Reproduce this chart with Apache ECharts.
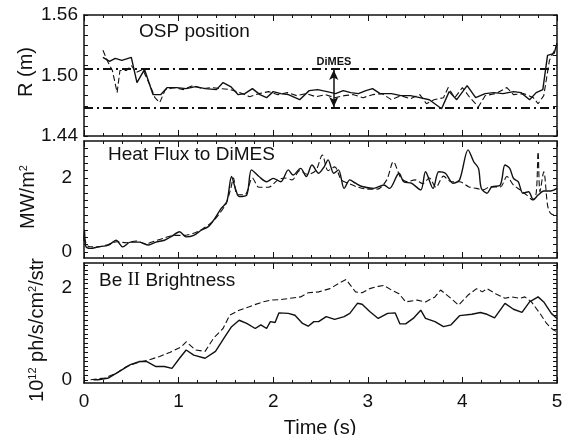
<!DOCTYPE html>
<html><head><meta charset="utf-8">
<script src="https://cdn.jsdelivr.net/npm/echarts@6/dist/echarts.min.js"></script>
<style>html,body{margin:0;padding:0;background:#fff}#c{width:567px;height:435px}</style>
</head><body><div id="c"></div><script>
// ---------- data ----------
const timeTicks = [0, 1, 2, 3, 4, 5];
const ospLabels = [1.44, 1.50, 1.56];
const ospTicks = [1.44,1.45,1.46,1.47,1.48,1.49,1.50,1.51,1.52,1.53,1.54,1.55,1.56];
const heatLabels = [0, 2];
const heatTicks = [0,0.2,0.4,0.6,0.8,1.0,1.2,1.4,1.6,1.8,2.0,2.2,2.4,2.6,2.8];
const beLabels = [0, 2];
const beTicks = [0,0.1,0.2,0.3,0.4,0.5,0.6,0.7,0.8,0.9,1.0,1.1,1.2,1.3,1.4,1.5,1.6,1.7,1.8,1.9,2.0,2.1,2.2,2.3,2.4,2.5];

const dimesHigh = 1.5064;
const dimesLow = 1.4678;
const dimesArrowT = 2.64;

const ospSolid = [[0.20,1.518],[0.27,1.514],[0.33,1.517],[0.40,1.515],[0.50,1.518],[0.56,1.493],[0.64,1.506],[0.73,1.481],[0.81,1.481],[0.88,1.488],[0.98,1.488],[1.08,1.487],[1.18,1.489],[1.28,1.487],[1.40,1.486],[1.47,1.493],[1.55,1.489],[1.63,1.481],[1.70,1.482],[1.78,1.487],[1.86,1.481],[1.93,1.478],[2.00,1.484],[2.08,1.482],[2.16,1.481],[2.28,1.476],[2.38,1.485],[2.47,1.486],[2.57,1.484],[2.66,1.482],[2.74,1.485],[2.82,1.483],[2.90,1.482],[2.98,1.485],[3.05,1.487],[3.13,1.482],[3.25,1.482],[3.35,1.480],[3.45,1.480],[3.55,1.478],[3.65,1.476],[3.78,1.467],[3.86,1.484],[3.94,1.476],[4.05,1.490],[4.14,1.478],[4.24,1.482],[4.33,1.483],[4.43,1.482],[4.54,1.484],[4.62,1.483],[4.71,1.476],[4.78,1.483],[4.85,1.486],[4.90,1.520],[4.97,1.522],[5.00,1.532]];
const ospDashed = [[0.20,1.525],[0.25,1.514],[0.30,1.505],[0.35,1.483],[0.38,1.505],[0.45,1.505],[0.50,1.510],[0.55,1.503],[0.62,1.506],[0.70,1.490],[0.75,1.478],[0.80,1.473],[0.86,1.486],[0.95,1.488],[1.05,1.486],[1.15,1.490],[1.25,1.487],[1.35,1.488],[1.45,1.487],[1.55,1.486],[1.65,1.483],[1.75,1.479],[1.85,1.482],[1.95,1.484],[2.05,1.481],[2.15,1.483],[2.25,1.480],[2.35,1.482],[2.45,1.479],[2.55,1.481],[2.65,1.478],[2.75,1.480],[2.85,1.481],[2.95,1.478],[3.05,1.481],[3.15,1.482],[3.25,1.476],[3.35,1.480],[3.45,1.477],[3.55,1.481],[3.62,1.472],[3.70,1.476],[3.80,1.478],[3.85,1.488],[3.92,1.478],[4.00,1.488],[4.08,1.478],[4.17,1.469],[4.24,1.480],[4.35,1.482],[4.47,1.488],[4.54,1.481],[4.65,1.482],[4.75,1.478],[4.80,1.472],[4.86,1.480],[4.92,1.515],[5.00,1.530]];

const heatSolid = [[0.00,0.30],[0.005,0.59],[0.02,0.15],[0.07,0.10],[0.15,0.14],[0.26,0.19],[0.34,0.32],[0.41,0.14],[0.49,0.27],[0.59,0.27],[0.68,0.19],[0.76,0.27],[0.85,0.32],[0.93,0.43],[1.01,0.55],[1.08,0.41],[1.16,0.45],[1.24,0.59],[1.31,0.68],[1.37,0.86],[1.45,1.18],[1.51,1.36],[1.56,2.04],[1.60,1.72],[1.64,1.50],[1.72,1.54],[1.77,2.22],[1.85,2.04],[1.93,1.90],[2.00,1.99],[2.08,1.90],[2.16,2.22],[2.21,2.08],[2.29,2.26],[2.35,2.04],[2.41,2.35],[2.48,2.13],[2.54,2.31],[2.58,2.49],[2.64,2.13],[2.69,2.22],[2.75,1.72],[2.81,1.95],[2.87,1.86],[2.94,1.77],[3.06,1.72],[3.17,1.81],[3.23,1.72],[3.33,2.13],[3.38,1.90],[3.46,1.86],[3.56,1.68],[3.61,2.17],[3.69,1.72],[3.75,2.17],[3.82,2.13],[3.90,1.86],[3.97,1.95],[4.06,2.76],[4.12,2.44],[4.17,2.26],[4.20,1.72],[4.26,1.59],[4.31,1.76],[4.40,1.81],[4.45,2.35],[4.50,2.26],[4.54,1.99],[4.59,1.90],[4.64,1.59],[4.70,1.63],[4.75,1.41],[4.80,1.54],[4.86,1.65],[4.93,1.65],[5.00,1.72]];
const heatDashed = [[0.00,0.40],[0.05,0.15],[0.15,0.14],[0.25,0.20],[0.35,0.28],[0.45,0.25],[0.55,0.30],[0.65,0.22],[0.75,0.30],[0.85,0.38],[0.95,0.45],[1.05,0.45],[1.15,0.50],[1.25,0.62],[1.35,0.80],[1.42,1.00],[1.50,1.30],[1.55,1.70],[1.58,2.00],[1.62,1.55],[1.70,1.55],[1.78,2.00],[1.85,1.75],[1.95,1.75],[2.05,1.95],[2.12,2.00],[2.20,1.95],[2.28,2.20],[2.36,2.10],[2.45,2.20],[2.52,2.62],[2.58,2.20],[2.65,2.30],[2.72,1.95],[2.80,1.85],[2.90,1.75],[3.00,1.70],[3.10,1.70],[3.20,1.95],[3.27,2.44],[3.35,2.00],[3.42,1.90],[3.50,1.95],[3.58,1.85],[3.65,2.00],[3.72,1.75],[3.80,2.05],[3.88,1.90],[3.97,1.90],[4.07,1.76],[4.15,1.72],[4.22,1.68],[4.29,1.76],[4.40,1.76],[4.47,2.04],[4.54,1.81],[4.61,1.68],[4.68,1.54],[4.74,1.41],[4.78,1.59],[4.80,2.71],[4.82,1.63],[4.86,2.17],[4.90,1.27],[4.93,1.05],[4.98,1.00],[5.00,1.00]];

const beSolid = [[0.10,0.00],[0.15,0.00],[0.26,0.04],[0.37,0.18],[0.49,0.33],[0.59,0.40],[0.66,0.40],[0.76,0.29],[0.85,0.29],[0.93,0.25],[1.01,0.47],[1.08,0.65],[1.16,0.54],[1.28,0.47],[1.39,0.62],[1.49,0.94],[1.56,1.16],[1.64,1.30],[1.72,1.23],[1.81,1.12],[1.87,1.20],[1.93,1.12],[1.97,1.27],[2.02,1.25],[2.06,1.46],[2.16,1.45],[2.23,1.41],[2.31,1.23],[2.37,1.17],[2.43,1.27],[2.48,1.27],[2.56,1.38],[2.65,1.32],[2.75,1.38],[2.81,1.45],[2.89,1.67],[2.94,1.65],[3.02,1.49],[3.11,1.34],[3.21,1.45],[3.29,1.46],[3.34,1.22],[3.40,1.22],[3.48,1.34],[3.56,1.52],[3.61,1.34],[3.71,1.27],[3.80,1.16],[3.88,1.20],[3.97,1.40],[4.10,1.43],[4.19,1.47],[4.26,1.43],[4.34,1.35],[4.45,1.67],[4.54,1.54],[4.63,1.47],[4.71,1.70],[4.80,1.81],[4.86,1.70],[4.94,1.45],[5.00,1.34]];
const beDashed = [[0.07,0.00],[0.22,0.04],[0.34,0.14],[0.45,0.29],[0.57,0.38],[0.68,0.43],[0.80,0.51],[0.91,0.60],[1.03,0.72],[1.08,0.83],[1.18,0.65],[1.28,0.62],[1.37,0.91],[1.47,1.12],[1.54,1.41],[1.64,1.52],[1.74,1.59],[1.79,1.63],[1.89,1.70],[1.98,1.74],[2.08,1.75],[2.18,1.78],[2.29,1.81],[2.37,1.90],[2.48,1.92],[2.60,1.99],[2.69,2.10],[2.77,2.19],[2.87,1.92],[2.94,1.90],[3.02,1.99],[3.11,2.04],[3.17,2.06],[3.25,1.96],[3.33,1.88],[3.40,1.70],[3.52,1.74],[3.61,1.70],[3.71,1.81],[3.77,1.96],[3.86,1.81],[3.96,1.63],[4.06,1.85],[4.15,1.99],[4.21,1.92],[4.26,1.99],[4.35,1.88],[4.45,1.78],[4.52,1.81],[4.61,1.78],[4.66,1.81],[4.73,1.70],[4.82,1.45],[4.89,1.23],[4.96,1.09],[5.00,1.05]];

// ---------- chart ----------
const FONT = 'Liberation Sans';
const BLACK = '#111';
const grids = [
  {left: 84, right: 10, top: 15, height: 121},
  {left: 84, right: 10, top: 141, height: 117},
  {left: 84, right: 10, top: 263, height: 120}
];
function xAx(gi, pos, showLabel) {
  return {
    type: 'value', gridIndex: gi, min: 0, max: 5, interval: 1, position: pos,
    axisLine: {show: true, onZero: false, lineStyle: {color: BLACK, width: 1.5}},
    axisTick: {show: true, inside: true, length: 6, lineStyle: {color: BLACK, width: 1}},
    minorTick: {show: true, splitNumber: 5, length: 3, lineStyle: {color: BLACK, width: 1}},
    splitLine: {show: false},
    axisLabel: {show: showLabel, customValues: timeTicks, margin: 9, color: BLACK, fontFamily: FONT, fontSize: 19}
  };
}
function yAx(gi, pos, min, max, labels, ticks, showLabel, margin, fmt) {
  return {
    type: 'value', gridIndex: gi, min: min, max: max, position: pos,
    axisLine: {show: true, onZero: false, lineStyle: {color: BLACK, width: 1.5}},
    axisTick: {show: true, inside: true, length: 4, customValues: ticks, lineStyle: {color: BLACK, width: 1}},
    splitLine: {show: false},
    axisLabel: {show: showLabel, customValues: labels, margin: margin, color: BLACK, fontFamily: FONT, fontSize: 19, formatter: fmt}
  };
}
const chart = echarts.init(document.getElementById('c'), null, {renderer: 'canvas'});
const solidStyle = {color: BLACK, width: 1.4, type: 'solid'};
const dashStyle = {color: BLACK, width: 1.1, type: [6, 3]};
const dimesStyle = {color: BLACK, width: 2, type: [9, 4, 2, 4]};
function line(gi, data, style, smooth) {
  return {type: 'line', xAxisIndex: gi * 2, yAxisIndex: gi * 2, data: data, showSymbol: false, symbol: 'none',
          smooth: smooth || false, lineStyle: style, silent: true, z: 3};
}
const option = {
  animation: false,
  backgroundColor: '#fff',
  grid: grids,
  xAxis: [xAx(0, 'bottom', false), xAx(0, 'top', false),
          xAx(1, 'bottom', false), xAx(1, 'top', false),
          xAx(2, 'bottom', true), xAx(2, 'top', false)],
  yAxis: [yAx(0, 'left', 1.44, 1.56, ospLabels, ospTicks, true, 6, v => v.toFixed(2)),
          yAx(0, 'right', 1.44, 1.56, ospLabels, ospTicks, false, 6),
          yAx(1, 'left', -0.16, 3.0, heatLabels, heatTicks, true, 12, v => String(Math.round(v))),
          yAx(1, 'right', -0.16, 3.0, heatLabels, heatTicks, false, 12),
          yAx(2, 'left', -0.07, 2.55, beLabels, beTicks, true, 12, v => String(Math.round(v))),
          yAx(2, 'right', -0.07, 2.55, beLabels, beTicks, false, 12)],
  series: [
    Object.assign(line(0, [[0, dimesHigh], [5, dimesHigh]], dimesStyle), {
      markLine: {
        silent: true, symbol: ['arrow', 'arrow'], symbolSize: [7, 10],
        label: {show: false},
        lineStyle: {color: BLACK, width: 1.5, type: 'solid'},
        data: [[{coord: [dimesArrowT, dimesLow + 0.001]}, {coord: [dimesArrowT, dimesHigh - 0.001]}]]
      }
    }),
    line(0, [[0, dimesLow], [5, dimesLow]], dimesStyle),
    line(0, ospDashed, dashStyle),
    line(0, ospSolid, solidStyle),
    line(1, heatDashed, dashStyle, 0.3),
    line(1, heatSolid, solidStyle, 0.3),
    line(2, beDashed, dashStyle),
    line(2, beSolid, solidStyle)
  ],
  graphic: [
    {type: 'text', left: 139, top: 22, style: {text: 'OSP position', fill: BLACK, fontFamily: FONT, fontSize: 19}},
    {type: 'text', left: 108, top: 145, style: {text: 'Heat Flux to DiMES', fill: BLACK, fontFamily: FONT, fontSize: 19}},
    {type: 'text', left: 99, top: 271, style: {
      text: '{a|Be }{r|II}{a| Brightness}', fill: BLACK,
      rich: {a: {fontFamily: FONT, fontSize: 19, fill: BLACK}, r: {fontFamily: 'Liberation Serif', fontSize: 19, fill: BLACK}}}},
    {type: 'text', x: 334, y: 62, style: {text: 'DiMES', fill: BLACK, fontFamily: FONT, fontSize: 11, fontWeight: 'bold', align: 'center', verticalAlign: 'middle'}},
    {type: 'text', x: 320, y: 428, style: {text: 'Time (s)', fill: BLACK, fontFamily: FONT, fontSize: 20, align: 'center', verticalAlign: 'middle'}},
    {type: 'text', x: 26, y: 72, rotation: Math.PI / 2, style: {text: 'R (m)', fill: BLACK, fontFamily: FONT, fontSize: 20, align: 'center', verticalAlign: 'middle'}},
    {type: 'text', x: 28, y: 197, rotation: Math.PI / 2, style: {
      text: '{a|MW/m}{s|2}', fill: BLACK, align: 'center', verticalAlign: 'middle',
      rich: {a: {fontFamily: FONT, fontSize: 20, fill: BLACK}, s: {fontFamily: FONT, fontSize: 11, fill: BLACK, verticalAlign: 'top', padding: [0, 0, 8, 0]}}}},
    {type: 'text', x: 37, y: 330, rotation: Math.PI / 2, style: {
      text: '{a|10}{s|12}{a| ph/s/cm}{s|2}{a|/str}', fill: BLACK, align: 'center', verticalAlign: 'middle',
      rich: {a: {fontFamily: FONT, fontSize: 20, fill: BLACK}, s: {fontFamily: FONT, fontSize: 11, fill: BLACK, verticalAlign: 'top', padding: [0, 0, 8, 0]}}}}
  ]
};
chart.setOption(option);
</script></body></html>
